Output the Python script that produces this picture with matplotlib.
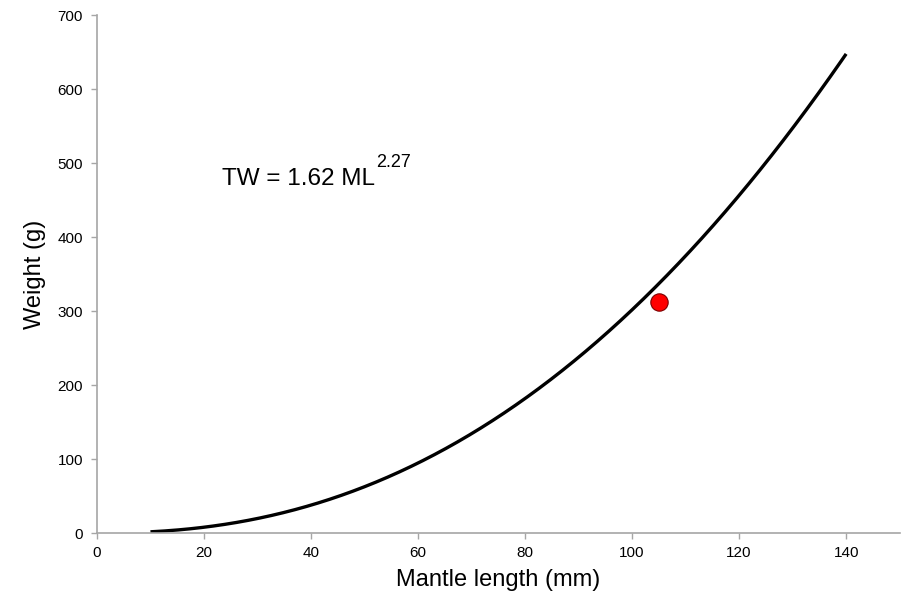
import numpy as np
import matplotlib
matplotlib.use("Agg")
import matplotlib.pyplot as plt

plt.rcParams["font.family"] = ["Liberation Sans", "DejaVu Sans"]

# Fitted length-weight relationship shown on the chart: TW = a * ML(cm)^b
coef_a = 1.62
coef_b = 2.27
ml_start = 10   # mm
ml_end = 140    # mm

# Observed specimen
obs_ml = [105]
obs_tw = [312]

x_ticks = [0, 20, 40, 60, 80, 100, 120, 140]
y_ticks = [0, 100, 200, 300, 400, 500, 600, 700]

fig = plt.figure(figsize=(9.06, 6.02), dpi=100)
ax = fig.add_axes([0.107, 0.1146, 0.886, 0.8604])

ml = np.linspace(ml_start, ml_end, 300)
tw = coef_a * (ml / 10.0) ** coef_b
ax.plot(ml, tw, color="black", linewidth=2.4, solid_capstyle="butt")
ax.plot(obs_ml, obs_tw, "o", color="#ff0000", markeredgecolor="#7a0000",
        markeredgewidth=0.8, markersize=12.5)

# equation label: main part and raised exponent
eq = ax.text(23.4, 479, "TW = 1.62 ML", fontsize=17.5, va="center", ha="left")
ax.annotate("2.27", xy=(1.0, 1.0), xycoords=eq, xytext=(1, 4),
            textcoords="offset points", fontsize=13, va="center", ha="left")

ax.set_xlim(0, 150)
ax.set_ylim(0, 700)
ax.set_xticks(x_ticks)
ax.set_yticks(y_ticks)
ax.set_xlabel("Mantle length (mm)", fontsize=17, labelpad=7)
ax.set_ylabel("Weight (g)", fontsize=17, labelpad=8)

for side in ["top", "right"]:
    ax.spines[side].set_visible(False)
for side in ["left", "bottom"]:
    ax.spines[side].set_color("#a6a6a6")
    ax.spines[side].set_linewidth(1.2)
ax.tick_params(axis="both", colors="#a6a6a6", labelcolor="black",
               labelsize=11, length=4, width=1)
ax.tick_params(axis="x", pad=5)
ax.tick_params(axis="y", pad=6)

fig.savefig("out.png", dpi=100)
